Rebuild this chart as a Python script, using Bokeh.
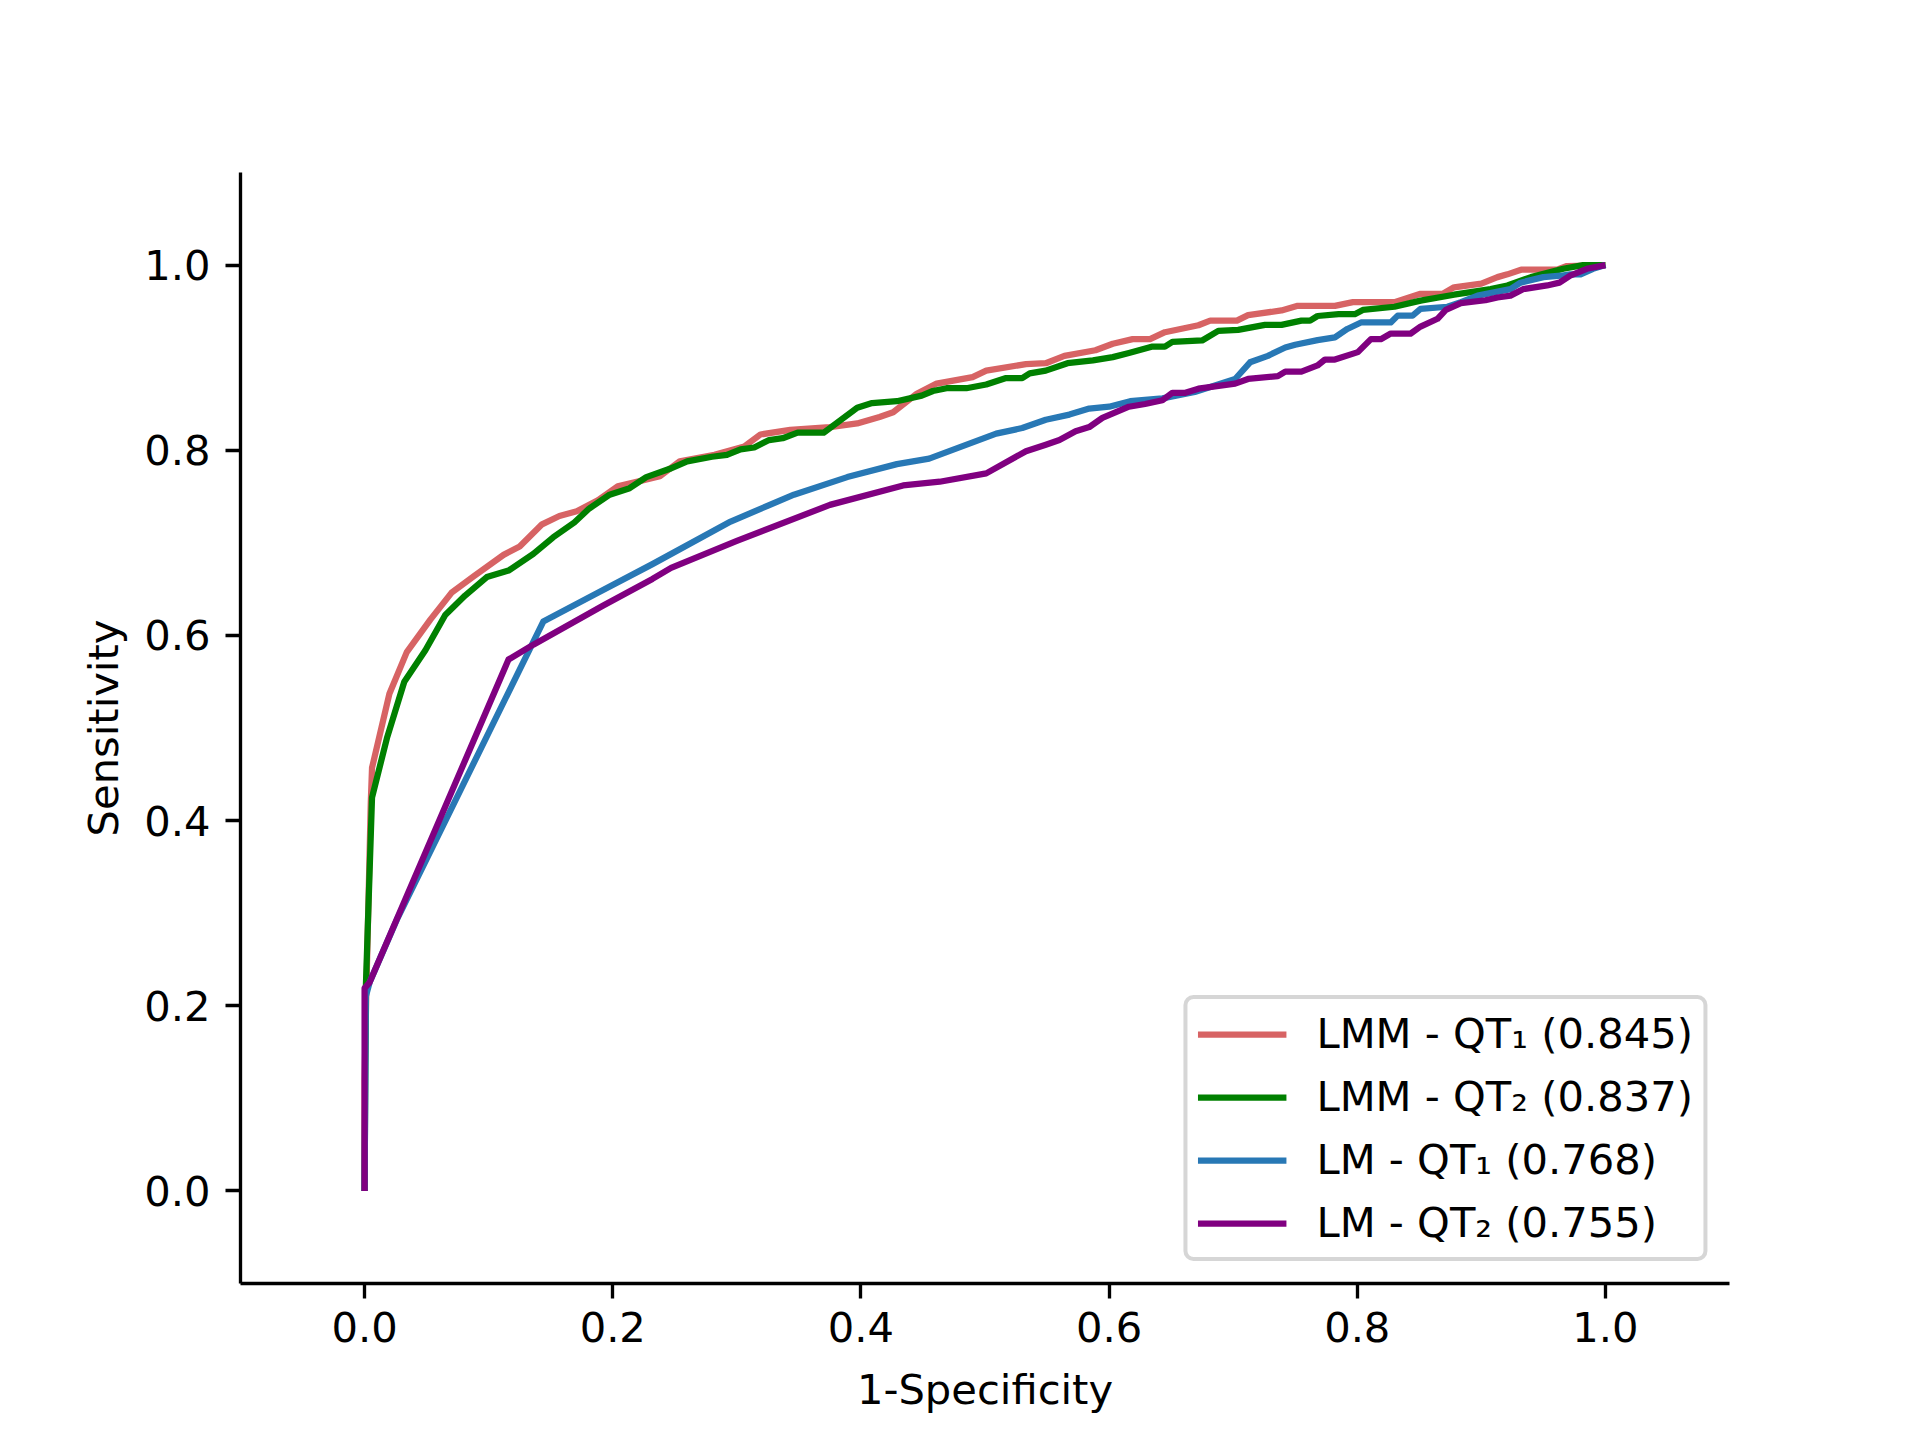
from bokeh.plotting import figure
from bokeh.models import Range1d, FixedTicker, Legend, LegendItem
from bokeh.embed import file_html
from bokeh.resources import INLINE

# ---- data ----
lmm1_fpr = [0, 0.0, 0.0015, 0.005, 0.006, 0.020, 0.034, 0.053, 0.070, 0.088, 0.112, 0.125, 0.143, 0.157, 0.171,
            0.188, 0.204, 0.238, 0.254, 0.282, 0.306, 0.319, 0.343, 0.375, 0.397, 0.415, 0.426, 0.445, 0.461, 0.490,
            0.501, 0.533, 0.549, 0.564, 0.589, 0.603, 0.619, 0.633, 0.645, 0.672, 0.6815, 0.703, 0.712, 0.739, 0.752,
            0.782, 0.7965, 0.830, 0.851, 0.869, 0.878, 0.900, 0.913, 0.921, 0.932, 0.961, 0.969, 1.0]
lmm1_tpr = [0, 0.12, 0.22, 0.42, 0.457, 0.537, 0.582, 0.617, 0.646, 0.664, 0.687, 0.696, 0.720, 0.729, 0.734,
            0.746, 0.761, 0.772, 0.788, 0.795, 0.804, 0.817, 0.822, 0.825, 0.829, 0.836, 0.841, 0.861, 0.872, 0.879,
            0.886, 0.893, 0.894, 0.902, 0.908, 0.915, 0.920, 0.920, 0.9275, 0.935, 0.940, 0.940, 0.946, 0.951, 0.956,
            0.956, 0.960, 0.960, 0.969, 0.969, 0.976, 0.980, 0.987, 0.990, 0.995, 0.995, 0.999, 1.0]

lmm2_fpr = [0, 0.001, 0.006, 0.018, 0.032, 0.049, 0.065, 0.081, 0.0985, 0.116, 0.136, 0.152, 0.169, 0.181, 0.1975,
            0.2136, 0.227, 0.246, 0.260, 0.280, 0.292, 0.303, 0.314, 0.326, 0.337, 0.349, 0.370, 0.397, 0.409, 0.429,
            0.449, 0.458, 0.469, 0.485, 0.501, 0.517, 0.530, 0.536, 0.549, 0.5665, 0.587, 0.603, 0.616, 0.635, 0.645,
            0.651, 0.675, 0.688, 0.704, 0.7256, 0.739, 0.755, 0.762, 0.768, 0.785, 0.798, 0.8045, 0.830, 0.851, 0.878,
            0.9075, 0.921, 0.940, 0.966, 0.982, 1.0]
lmm2_tpr = [0, 0.22, 0.425, 0.489, 0.55, 0.584, 0.622, 0.643, 0.663, 0.670, 0.688, 0.706, 0.722, 0.737, 0.752,
            0.759, 0.771, 0.780, 0.788, 0.793, 0.795, 0.801, 0.803, 0.811, 0.813, 0.819, 0.819, 0.846, 0.851, 0.853,
            0.859, 0.864, 0.867, 0.867, 0.871, 0.878, 0.878, 0.883, 0.886, 0.894, 0.897, 0.9006, 0.905, 0.912, 0.912,
            0.917, 0.9186, 0.929, 0.930, 0.9354, 0.9354, 0.940, 0.940, 0.945, 0.947, 0.947, 0.9516, 0.955, 0.9616, 0.968,
            0.974, 0.978, 0.987, 0.996, 1.0, 1.0]

lm1_fpr = [0, 0.001, 0.004, 0.026, 0.144, 0.188, 0.232, 0.295, 0.346, 0.389, 0.429, 0.455, 0.509, 0.530, 0.549,
           0.568, 0.584, 0.600, 0.617, 0.643, 0.669, 0.7016, 0.7136, 0.728, 0.742, 0.750, 0.768, 0.782, 0.792, 0.803,
           0.827, 0.8326, 0.8446, 0.851, 0.8727, 0.8835, 0.897, 0.9235, 0.9316, 0.950, 0.964, 0.9716, 0.980, 0.990, 1.0]
lm1_tpr = [0, 0.21, 0.225, 0.293, 0.615, 0.646, 0.677, 0.723, 0.752, 0.771, 0.785, 0.791, 0.818, 0.824, 0.833,
           0.8385, 0.845, 0.847, 0.853, 0.856, 0.863, 0.877, 0.895, 0.902, 0.911, 0.914, 0.919, 0.922, 0.931, 0.938,
           0.938, 0.9454, 0.9454, 0.9526, 0.955, 0.960, 0.967, 0.974, 0.981, 0.987, 0.9885, 0.990, 0.990, 0.996, 1.0]

lm2_fpr = [0, 0.0, 0.004, 0.116, 0.136, 0.192, 0.232, 0.247, 0.300, 0.375, 0.434, 0.4635, 0.501, 0.533, 0.549,
           0.560, 0.573, 0.584, 0.5946, 0.616, 0.629, 0.643, 0.651, 0.6615, 0.672, 0.7016, 0.712, 0.736, 0.742, 0.755,
           0.768, 0.774, 0.782, 0.8005, 0.811, 0.819, 0.827, 0.843, 0.851, 0.8647, 0.8714, 0.8835, 0.9033, 0.913,
           0.9235, 0.9336, 0.953, 0.963, 0.9716, 0.985, 1.0]
lm2_tpr = [0, 0.219, 0.225, 0.574, 0.590, 0.632, 0.661, 0.673, 0.702, 0.741, 0.762, 0.766, 0.775, 0.799, 0.806,
           0.811, 0.8206, 0.825, 0.835, 0.847, 0.850, 0.854, 0.862, 0.862, 0.8665, 0.872, 0.877, 0.880, 0.885, 0.885,
           0.8916, 0.898, 0.898, 0.906, 0.920, 0.920, 0.926, 0.926, 0.9336, 0.942, 0.9516, 0.959, 0.962, 0.965,
           0.967, 0.974, 0.978, 0.981, 0.9885, 0.996, 1.0]

series_labels = ["LMM - QT\u2081 (0.845)", "LMM - QT\u2082 (0.837)", "LM - QT\u2081 (0.768)", "LM - QT\u2082 (0.755)"]
series_colors = ["#d76364", "#008000", "#2878b5", "#800080"]

tick_values = [0.0, 0.2, 0.4, 0.6, 0.8, 1.0]
tick_labels = ["0.0", "0.2", "0.4", "0.6", "0.8", "1.0"]

FONT = "DejaVu Sans"
FS = "41.67px"

p = figure(frame_width=1489, frame_height=1111,
           min_border_left=240, min_border_top=172, min_border_right=170, min_border_bottom=140,
           x_range=Range1d(-0.1, 1.1), y_range=Range1d(-0.1, 1.1),
           output_backend="svg", toolbar_location=None)
p.outline_line_color = None
p.xgrid.visible = False
p.ygrid.visible = False
p.background_fill_color = "white"
p.border_fill_color = "white"

for ax in (p.xaxis[0], p.yaxis[0]):
    ax.ticker = FixedTicker(ticks=tick_values)
    ax.major_label_overrides = {v: s for v, s in zip(tick_values, tick_labels)}
    ax.axis_line_width = 3.33
    ax.axis_line_color = "black"
    ax.major_tick_line_width = 3.33
    ax.major_tick_out = 15
    ax.major_tick_in = 0
    ax.minor_tick_line_color = None
    ax.major_label_text_font = FONT
    ax.major_label_text_font_size = FS
    ax.major_label_text_color = "black"
    ax.axis_label_text_font = FONT
    ax.axis_label_text_font_size = FS
    ax.axis_label_text_font_style = "normal"
    ax.axis_label_text_color = "black"

p.xaxis.major_label_standoff = 13
p.yaxis.major_label_standoff = 15
p.xaxis.axis_label = "1-Specificity"
p.yaxis.axis_label = "Sensitivity"
p.xaxis.axis_label_standoff = 20
p.yaxis.axis_label_standoff = 13

data = [(lmm1_fpr, lmm1_tpr), (lmm2_fpr, lmm2_tpr), (lm1_fpr, lm1_tpr), (lm2_fpr, lm2_tpr)]
items = []
for (xs, ys), lab, col in zip(data, series_labels, series_colors):
    r = p.line(xs, ys, line_color=col, line_width=6.25, line_join="round")
    items.append(LegendItem(label=lab, renderers=[r]))

legend = Legend(items=items, location="bottom_right", margin=22, padding=10,
                spacing=14, label_standoff=30, glyph_width=89, glyph_height=42, label_height=42,
                label_text_font=FONT, label_text_font_size=FS, label_text_color="black",
                border_line_color="#cccccc", border_line_alpha=0.8, border_line_width=4,
                background_fill_color="white", background_fill_alpha=0.8)
if "border_radius" in Legend.properties():
    legend.border_radius = 10
p.add_layout(legend)

open("out.html", "w").write(file_html(p, INLINE))
